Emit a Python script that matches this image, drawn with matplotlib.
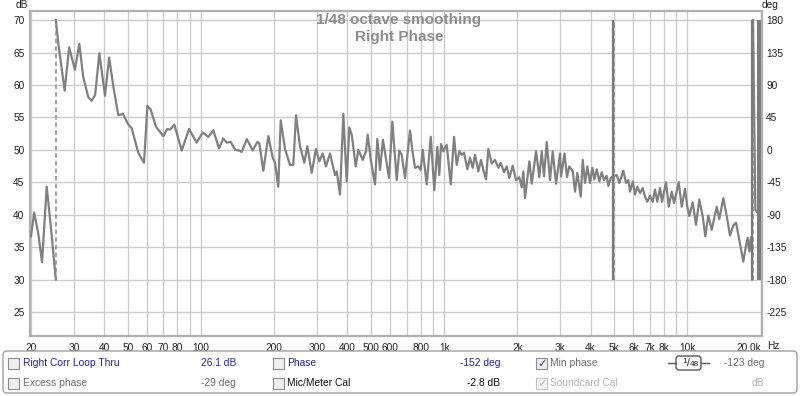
import matplotlib
matplotlib.use('Agg')
import matplotlib.pyplot as plt
from matplotlib.patches import FancyBboxPatch, Rectangle

plt.rcParams['font.family'] = ['Liberation Sans', 'DejaVu Sans']

# ---------------- data ----------------
title_lines = ["1/48 octave smoothing", "Right Phase"]

db_ticks = [25, 30, 35, 40, 45, 50, 55, 60, 65, 70]
deg_ticks = [180, 135, 90, 45, 0, -45, -90, -135, -180, -225]
freq_ticks = [20, 30, 40, 50, 60, 70, 80, 100, 200, 300, 400, 500, 600, 800,
              1000, 2000, 3000, 4000, 5000, 6000, 7000, 8000, 10000, 20000]
freq_labels = ["20", "30", "40", "50", "60", "70", "80", "100", "200", "300",
               "400", "500", "600", "800", "1k", "2k", "3k", "4k", "5k", "6k",
               "7k", "8k", "10k", "20.0k"]
freq_minor = [90, 700, 900, 9000]

# phase curve (deg), wrapped into -180..180
seg1_freq = [20, 20.6, 21.4, 22.2, 23.2, 24.2, 25.3]
seg1_phase = [-120, -87, -115, -156, -51, -111, -180]

seg2_freq = [25.3, 25.9, 27.5, 28.7, 30.3, 31.6, 32.8, 34.4, 35.5, 36.7, 38.2,
             40.3, 41.9, 43.6, 45.7, 47.7, 50.3, 51.9, 55.2, 58.3, 60.2, 62.1,
             65.3, 70.0, 72.7, 74.6, 77.7, 83.3, 89.3, 96.0, 101.6, 107.2,
             112.4, 118.6, 123.5, 127.6, 132.5, 138.0, 143.7, 147.1, 154.2,
             163.2, 170.4, 173.7, 180.4, 189.2, 197.2, 201.5, 207.9, 212.7,
             221.6, 232.3, 239.7, 245.9, 255.3, 266.0, 273.7, 285.3, 297.1,
             306.6, 316.6, 326.6, 339.3, 355.7, 361.5, 373.0, 384.8, 397.4,
             407.3, 416.7, 432.8, 443.6, 462.4, 477.0, 484.8, 500.2, 519.5,
             530.9, 544.7, 560, 593.3, 612.2, 638, 653.8, 668.9, 690.3, 723.7,
             739.7, 758.8, 782.8, 800.7, 816.2, 847.6, 880.4, 911, 937, 955,
             970.6, 992, 1024, 1064, 1098, 1126, 1154, 1181, 1207, 1245, 1277,
             1310, 1339, 1382, 1417, 1449, 1486, 1519, 1568, 1618, 1670, 1708,
             1762, 1808, 1853, 1914, 1974, 2036, 2084, 2116, 2150, 2240, 2291,
             2387, 2462, 2518, 2574, 2640, 2724, 2795, 2884, 2996, 3024, 3125,
             3199, 3270, 3378, 3452, 3528, 3643, 3713, 3795, 3878, 3978, 4066,
             4144, 4240, 4346, 4444, 4542, 4659, 4731, 4840, 4932, 5122, 5250,
             5454, 5595, 5718, 5811, 5962, 6093, 6226, 6387, 6552, 6696, 6843,
             7020, 7202, 7362, 7522, 7718, 7867, 8170, 8382, 8624, 8813, 9214,
             9480, 9780, 9992, 10184, 10518, 10852, 11196, 11562, 11852, 12194,
             12594, 12870, 13202, 13532, 14056, 14516, 14976, 15452, 15852,
             16202, 16984, 17424, 17708, 17980, 18272, 18446, 18470]
seg2_phase = [180, 148, 82, 142, 111, 147, 101, 73, 68, 76, 134,
              75, 128, 88, 48, 50, 35, 30, -4, -18, 61, 56,
              32, 19, 29, 28, 35, -1, 29, 10, 24, 18,
              27, 2, 16, 10, 11, 0, -1, -3, 15,
              -1, 11, 9, -29, 19, -11, -18, -51, 41,
              1, -21, -21, 48, 5, -18, 5, -32, 1,
              -16, -5, -23, -5, -35, -30, -62, 50, -44,
              31, 21, -23, 0, -14, -2, 21, -16, -48,
              15, -28, 14, -39, 39, -42, -1, -7, -39, 27,
              -1, -25, -23, -28, 0, -48, 18, -56, 4, -35,
              8, -2, 7, -48, 18, -21, -2, -7, -4, -27, -11,
              -25, -7, -30, -14, -28, -41, 1, -19, -14, -25, -18,
              -31, -23, -39, -22, -42, -38, -52, -30, -67, -16, -47,
              -2, -38, -2, -37, 11, -42, -2, -47, -5, -37, -5,
              -38, -23, -30, -58, -32, -65, -14, -46, -23, -46, -25,
              -41, -27, -44, -31, -42, -36, -50, -39, -37, -35, -46,
              -29, -46, -42, -58, -44, -62, -51, -60, -53, -65, -72,
              -64, -72, -55, -72, -53, -72, -45, -79, -58, -74, -45,
              -79, -54, -79, -92, -73, -104, -69, -92, -120, -91,
              -111, -96, -79, -96, -67, -92, -119, -105, -101,
              -118, -155, -133, -122, -141, -121, -143, -180]

seg3_freq = [18620, 19030, 19300]
seg3_phase = [180, -83, -86]

wrap_dashed_freq = [25.3, 5010, 18560]
wrap_solid_freq = [4960, 18400]
band_freq = [19340, 20080]

# ---------------- figure ----------------
W, H = 800, 396
fig = plt.figure(figsize=(8, 3.96), dpi=100)
fig.patch.set_facecolor('white')


def fx(px):
    return px / W


def fy(py):
    return 1 - py / H


L, R, T, B = 30, 762, 11, 336
ax = fig.add_axes([fx(L), fy(B), fx(R) - fx(L), fy(T) - fy(B)])
ax2 = ax.twinx()

ax.set_xscale('log')
ax.set_xlim(19.81, 20270)
ax.set_ylim(21.3, 71.4)
ax.set_yticks(db_ticks)
ax.set_yticklabels([str(v) for v in db_ticks])
ax.set_xticks(freq_ticks)
ax.set_xticklabels(freq_labels)
ax.set_xticks(freq_minor, minor=True)
ax.xaxis.set_minor_formatter(plt.NullFormatter())
ax.grid(True, which='both', axis='x', color='#cccccc', lw=1.0)
ax.grid(True, which='major', axis='y', color='#cccccc', lw=1.0)
ax.set_axisbelow(True)
ax.tick_params(axis='both', which='both', length=0, labelsize=7.3,
               colors='#222222')
ax.tick_params(axis='x', pad=5)
ax.tick_params(axis='y', pad=4)
for lbl in ax.get_xticklabels():
    if lbl.get_text() == "20.0k":
        lbl.set_horizontalalignment('right')
for s in ax.spines.values():
    s.set_color('#b0b0b0')
    s.set_linewidth(1.6)

ax2.set_ylim(-258.3, 192.6)
ax2.set_yticks(deg_ticks)
ax2.set_yticklabels([str(v) for v in deg_ticks])
ax2.tick_params(axis='y', length=0, labelsize=7.3, colors='#222222', pad=3)
ax2.tick_params(axis='x', which='both', length=0)
for s in ax2.spines.values():
    s.set_visible(False)

curve_col = '#808080'
ax2.plot(seg1_freq, seg1_phase, color=curve_col, lw=1.6, solid_joinstyle='round')
ax2.plot(seg2_freq, seg2_phase, color=curve_col, lw=1.6, solid_joinstyle='round')
ax2.plot(seg3_freq, seg3_phase, color=curve_col, lw=1.6, solid_joinstyle='round')
ax2.vlines(wrap_dashed_freq, -180, 180, colors='#8a8a8a', linestyles=(0, (3, 2)), lw=1.1)
ax2.vlines(wrap_solid_freq, -180, 180, colors='#7a7a7a', lw=1.6)
ax2.fill_between(band_freq, -180, 180, color='#7c7c7c', lw=0)

# ---------------- overlay in pixel coords ----------------
ov = fig.add_axes([0, 0, 1, 1])
ov.set_xlim(0, W)
ov.set_ylim(H, 0)
ov.axis('off')
ov.patch.set_visible(False)

ov.text(22, 5, "dB", fontsize=7.3, color='#222222', ha='center', va='center')
ov.text(770, 5, "deg", fontsize=7.3, color='#222222', ha='center', va='center')
ov.text(767, 346, "Hz", fontsize=7.3, color='#222222', ha='left', va='center')

ov.text(399, 20, title_lines[0], fontsize=11, fontweight='bold',
        color='#8c8c8c', ha='center', va='center')
ov.text(399, 37, title_lines[1], fontsize=11, fontweight='bold',
        color='#8c8c8c', ha='center', va='center')

panel = FancyBboxPatch((3, 351), 794, 42, boxstyle='round,pad=0,rounding_size=4',
                       fc='white', ec='#a0a0a0', lw=1.0)
ov.add_patch(panel)


def checkbox(x, y, checked=False, col='#5a6a9a', fc='#eeeeee', ec='#8c8c8c'):
    ov.add_patch(Rectangle((x, y - 5.5), 11, 11, fc=fc, ec=ec, lw=0.8))
    if checked:
        ov.text(x + 5.8, y + 0.3, '\u2713', fontsize=8.5, color=col,
                ha='center', va='center', family='DejaVu Sans',
                fontweight='bold')


blue = '#2323a8'
gray = '#6c6c6c'
lgray = '#b4b4b4'
fs = 7.4
r1, r2 = 363, 383
checkbox(8, r1)
ov.text(23, r1, "Right Corr Loop Thru", fontsize=fs, color=blue, va='center')
ov.text(236, r1, "26.1 dB", fontsize=fs, color=blue, va='center', ha='right')
checkbox(8, r2)
ov.text(23, r2, "Excess phase", fontsize=fs, color=gray, va='center')
ov.text(236, r2, "-29 deg", fontsize=fs, color=gray, va='center', ha='right')

checkbox(273, r1)
ov.text(287, r1, "Phase", fontsize=fs, color=blue, va='center')
ov.text(500, r1, "-152 deg", fontsize=fs, color=blue, va='center', ha='right')
checkbox(273, r2)
ov.text(287, r2, "Mic/Meter Cal", fontsize=fs, color='#111111', va='center')
ov.text(500, r2, "-2.8 dB", fontsize=fs, color='#111111', va='center', ha='right')

checkbox(536, r1, checked=True, col='#4a5a90')
ov.text(550, r1, "Min phase", fontsize=fs, color=gray, va='center')
checkbox(536, r2, checked=True, col='#c0c0c0', fc='#f4f4f4', ec='#c4c4c4')
ov.text(550, r2, "Soundcard Cal", fontsize=fs, color=lgray, va='center')

ov.plot([668, 676], [r1, r1], color='#555555', lw=1.0)
ov.plot([701, 709], [r1, r1], color='#555555', lw=1.0)
ov.add_patch(FancyBboxPatch((676, r1 - 7), 25, 14,
                            boxstyle='round,pad=0,rounding_size=3',
                            fc='white', ec='#555555', lw=1.0))
ov.text(685, r1 - 1.5, "1", fontsize=6, color='#222222', ha='center', va='center')
ov.text(688.5, r1, "/", fontsize=7.5, color='#222222', ha='center', va='center')
ov.text(694, r1 + 1.5, "48", fontsize=6, color='#222222', ha='center', va='center')
ov.text(764, r1, "-123 deg", fontsize=fs, color=gray, va='center', ha='right')
ov.text(764, r2, "dB", fontsize=fs, color=lgray, va='center', ha='right')

fig.savefig('out.png', dpi=100, facecolor='white')
